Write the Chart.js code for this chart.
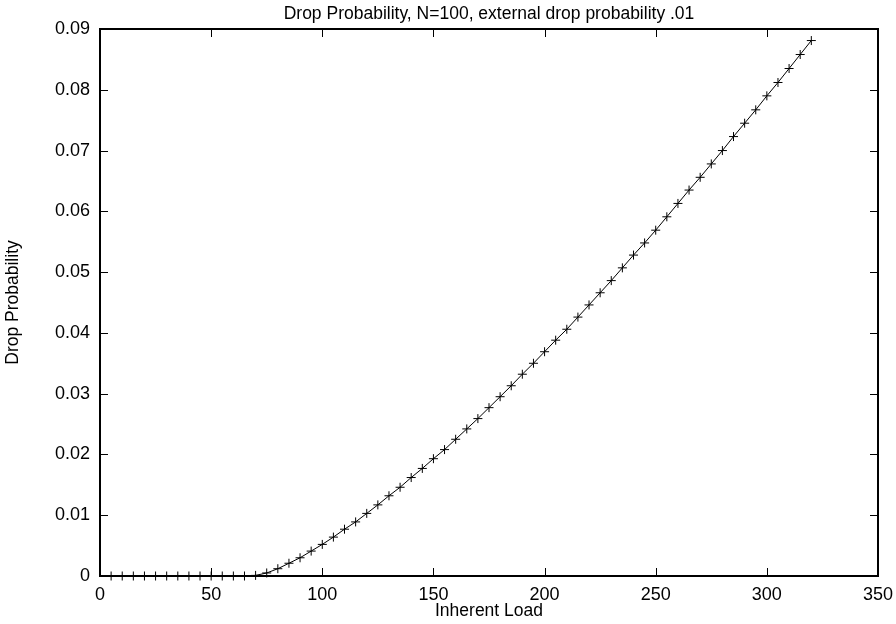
<!DOCTYPE html>
<html>
<head>
<meta charset="utf-8">
<title>Drop Probability</title>
<script src="https://cdn.jsdelivr.net/npm/chart.js@4.4.1/dist/chart.umd.min.js"></script>
<style>
  body { margin: 0; background: #fff; }
  .chart-wrapper { width: 896px; height: 624px; }
</style>
</head>
<body>
<div class="chart-wrapper">
  <canvas id="dropChart"></canvas>
</div>
<script>
const loads = [
  5, 10, 15, 20, 25, 30, 35, 40, 45, 50, 55, 60, 65, 70, 75, 80,
  85, 90, 95, 100, 105, 110, 115, 120, 125, 130, 135, 140, 145, 150, 155, 160,
  165, 170, 175, 180, 185, 190, 195, 200, 205, 210, 215, 220, 225, 230, 235, 240,
  245, 250, 255, 260, 265, 270, 275, 280, 285, 290, 295, 300, 305, 310, 315, 320
];
const dropProb = [
  0, 0, 0, 0, 0, 0, 0, 0, 0, 0, 0, 0, 0, 0.0001, 0.0005, 0.0012,
  0.0021, 0.0030, 0.0041, 0.0052, 0.0064, 0.0077, 0.0089, 0.0103, 0.0117, 0.0132, 0.0146, 0.0162, 0.0177, 0.0193, 0.0208, 0.0225,
  0.0242, 0.0259, 0.0277, 0.0295, 0.0313, 0.0332, 0.0350, 0.0369, 0.0388, 0.0406, 0.0426, 0.0446, 0.0466, 0.0486, 0.0507, 0.0528,
  0.0548, 0.0569, 0.0591, 0.0613, 0.0635, 0.0656, 0.0678, 0.0700, 0.0723, 0.0745, 0.0767, 0.0790, 0.0812, 0.0835, 0.0858, 0.0881
];
const xTicks = [0, 50, 100, 150, 200, 250, 300, 350];
const yTicks = [0, 0.01, 0.02, 0.03, 0.04, 0.05, 0.06, 0.07, 0.08, 0.09];
const TITLE = 'Drop Probability, N=100, external drop probability .01';

const FONT = '"Liberation Sans", Arial, Helvetica, sans-serif';
Chart.defaults.font.family = FONT;
Chart.defaults.color = '#000';

// gnuplot style box with inward ticks on all four sides, title over the plot
const frame = {
  id: 'frame',
  afterDatasetsDraw(chart) {
    const ctx = chart.ctx;
    const a = chart.chartArea;
    const xs = chart.scales.x;
    const ys = chart.scales.y;
    const len = 8;
    ctx.save();
    ctx.strokeStyle = '#000';
    ctx.lineWidth = 1;
    ctx.beginPath();
    xTicks.forEach((v) => {
      const px = Math.round(xs.getPixelForValue(v)) + 0.5;
      ctx.moveTo(px, a.bottom);
      ctx.lineTo(px, a.bottom - len);
      ctx.moveTo(px, a.top);
      ctx.lineTo(px, a.top + len);
    });
    yTicks.forEach((v) => {
      const py = Math.round(ys.getPixelForValue(v)) + 0.5;
      ctx.moveTo(a.left, py);
      ctx.lineTo(a.left + len, py);
      ctx.moveTo(a.right, py);
      ctx.lineTo(a.right - len, py);
    });
    ctx.stroke();
    ctx.lineWidth = 2;
    ctx.strokeRect(a.left, a.top, a.right - a.left, a.bottom - a.top);

    ctx.fillStyle = '#000';
    ctx.font = '17.5px ' + FONT;
    ctx.textAlign = 'center';
    ctx.textBaseline = 'alphabetic';
    ctx.fillText(TITLE, (a.left + a.right) / 2, 18.5);
    ctx.restore();
  },
};

new Chart(document.getElementById('dropChart'), {
  type: 'line',
  data: {
    labels: loads,
    datasets: [
      {
        label: 'Drop Probability',
        data: loads.map((x, i) => ({ x: x, y: dropProb[i] })),
        borderColor: '#000',
        backgroundColor: '#000',
        borderWidth: 1,
        pointStyle: 'cross',
        pointRadius: 4.5,
        pointBorderWidth: 1,
        pointBorderColor: '#000',
        tension: 0,
        clip: false,
      },
    ],
  },
  options: {
    responsive: true,
    maintainAspectRatio: false,
    animation: false,
    layout: { padding: { left: 0, right: 18, top: 29, bottom: 0 } },
    plugins: {
      legend: { display: false },
      tooltip: { enabled: false },
      title: { display: false },
    },
    scales: {
      x: {
        type: 'linear',
        min: 0,
        max: 350,
        afterFit: (s) => {
          s.height = 48;
          s.paddingLeft = 0;
          s.paddingRight = 0;
        },
        afterBuildTicks: (s) => { s.ticks = xTicks.map((v) => ({ value: v })); },
        grid: { display: false, drawTicks: false },
        border: { display: false },
        ticks: { font: { size: 18 }, padding: 8, maxRotation: 0, color: '#000' },
        title: {
          display: true,
          text: 'Inherent Load',
          font: { size: 17.5 },
          color: '#000',
          padding: { top: 0, bottom: 2 },
        },
      },
      y: {
        type: 'linear',
        min: 0,
        max: 0.09,
        afterFit: (s) => {
          s.width = 100;
          s.paddingTop = 0;
          s.paddingBottom = 0;
        },
        afterBuildTicks: (s) => { s.ticks = yTicks.map((v) => ({ value: v })); },
        grid: { display: false, drawTicks: false },
        border: { display: false },
        ticks: {
          font: { size: 18 },
          padding: 10,
          color: '#000',
          callback: (v) => (v === 0 ? '0' : v.toFixed(2)),
        },
        title: {
          display: true,
          text: 'Drop Probability',
          font: { size: 17.5 },
          color: '#000',
          padding: { top: 3, bottom: 0 },
        },
      },
    },
  },
  plugins: [frame],
});
</script>
</body>
</html>
